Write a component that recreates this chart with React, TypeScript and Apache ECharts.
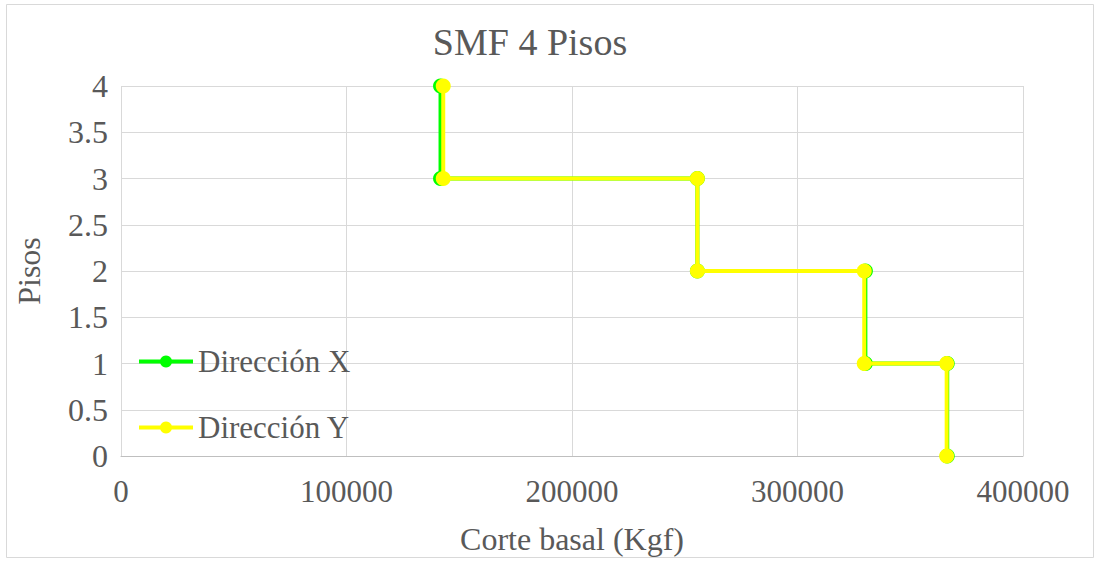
import React, { useEffect, useRef } from "react";
import * as echarts from "echarts";

const titleText = "SMF 4 Pisos";
const xAxisName = "Corte basal (Kgf)";
const yAxisName = "Pisos";
const seriesNames = ["Dirección X", "Dirección Y"];
const pisos = [4, 3, 3, 2, 2, 1, 1, 0];
const corteX = [141700, 141700, 255600, 255600, 330100, 330100, 366400, 366400];
const corteY = [142900, 142900, 255600, 255600, 329600, 329600, 366150, 366150];
const colors = ["#00FF00", "#FFFF00"];

const FONT = "'Liberation Serif', 'Times New Roman', serif";

export default function App() {
  const ref = useRef<HTMLDivElement>(null);
  useEffect(() => {
    if (!ref.current) return;
    const chart = echarts.init(ref.current, undefined, { renderer: "svg" });
    const mk = (xs: number[]) => xs.map((x, i) => [x, pisos[i]]);
    chart.setOption({
      animation: false,
      backgroundColor: "#ffffff",
      title: {
        text: titleText,
        left: 530,
        textAlign: "center",
        top: 23,
        padding: 0,
        textStyle: { fontFamily: FONT, fontSize: 38, fontWeight: "normal", color: "#595959" },
      },
      graphic: [
        {
          type: "rect",
          shape: { x: 6.5, y: 4.5, width: 1087, height: 553 },
          style: { fill: "none", stroke: "#d9d9d9", lineWidth: 1 },
          silent: true,
        },
      ],
      legend: {
        orient: "vertical",
        left: 137,
        top: 346,
        padding: 0,
        itemWidth: 54,
        itemHeight: 15,
        itemGap: 35,
        lineStyle: { width: 4 },
        textStyle: { fontFamily: FONT, fontSize: 31, color: "#595959" },
        data: seriesNames,
      },
      grid: { left: 121, right: 76, top: 86, bottom: 105, containLabel: false },
      xAxis: {
        type: "value",
        min: 0,
        max: 400000,
        interval: 100000,
        name: xAxisName,
        nameLocation: "middle",
        nameGap: 67,
        nameTextStyle: { fontFamily: FONT, fontSize: 32, color: "#595959" },
        axisLine: { show: true, lineStyle: { color: "#bfbfbf", width: 1 } },
        axisTick: { show: false },
        axisLabel: {
          fontFamily: FONT,
          fontSize: 31,
          color: "#595959",
          margin: 20,
          formatter: (v: number) => String(v),
        },
        splitLine: { show: true, lineStyle: { color: "#d9d9d9", width: 1 } },
      },
      yAxis: {
        type: "value",
        min: 0,
        max: 4,
        interval: 0.5,
        name: yAxisName,
        nameLocation: "middle",
        nameGap: 76,
        nameTextStyle: { fontFamily: FONT, fontSize: 32, color: "#595959" },
        axisLine: { show: false },
        axisTick: { show: false },
        axisLabel: { fontFamily: FONT, fontSize: 32, color: "#595959", margin: 13 },
        splitLine: { show: true, lineStyle: { color: "#d9d9d9", width: 1 } },
      },
      series: [
        {
          name: seriesNames[0],
          type: "line",
          data: mk(corteX),
          symbol: "circle",
          symbolSize: 15,
          lineStyle: { color: colors[0], width: 4 },
          itemStyle: { color: colors[0] },
          z: 2,
        },
        {
          name: seriesNames[1],
          type: "line",
          data: mk(corteY),
          symbol: "circle",
          symbolSize: 15,
          lineStyle: { color: colors[1], width: 4 },
          itemStyle: { color: colors[1] },
          z: 3,
        },
      ],
    });
    return () => chart.dispose();
  }, []);
  return (
    <div
      ref={ref}
      style={{ position: "fixed", left: 0, top: 0, width: 1099, height: 561, background: "#fff" }}
    />
  );
}
